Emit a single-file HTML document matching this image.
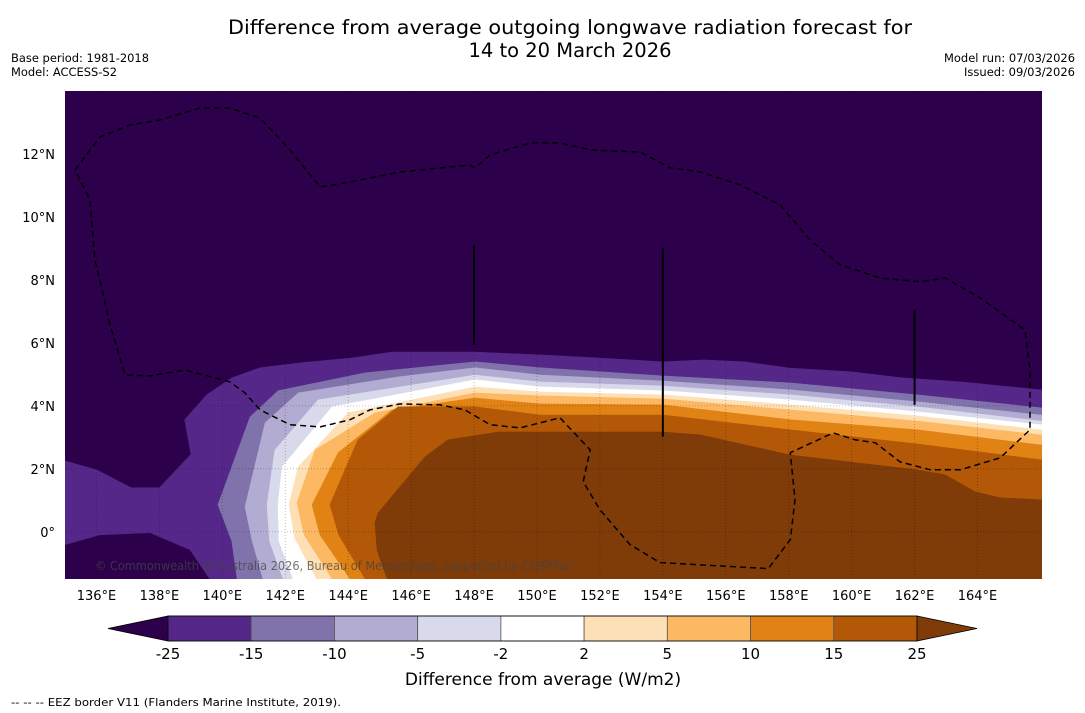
<!DOCTYPE html>
<html><head><meta charset="utf-8"><style>
html,body{margin:0;padding:0;background:#fff;}
svg{display:block;font-family:"DejaVu Sans","Liberation Sans",sans-serif;}
</style></head><body>
<svg id="chart" width="1085" height="713" viewBox="0 0 1085 713" xmlns="http://www.w3.org/2000/svg">
<text x="570" y="34" font-size="19.5" text-anchor="middle" textLength="684" lengthAdjust="spacingAndGlyphs">Difference from average outgoing longwave radiation forecast for</text>
<text x="570" y="57" font-size="19.5" text-anchor="middle">14 to 20 March 2026</text>
<text x="11" y="62" font-size="11.5" textLength="138" lengthAdjust="spacingAndGlyphs">Base period: 1981-2018</text>
<text x="11" y="76" font-size="11.5" textLength="106" lengthAdjust="spacingAndGlyphs">Model: ACCESS-S2</text>
<text x="1075" y="62" font-size="11.5" text-anchor="end" textLength="131" lengthAdjust="spacingAndGlyphs">Model run: 07/03/2026</text>
<text x="1075" y="76" font-size="11.5" text-anchor="end" textLength="111" lengthAdjust="spacingAndGlyphs">Issued: 09/03/2026</text>
<defs><clipPath id="pc"><rect x="65" y="91" width="977" height="488"/></clipPath></defs>
<g id="plot" clip-path="url(#pc)"></g>
<g id="axes"></g>
<g id="cbar"></g>
<text x="543" y="685" font-size="17" text-anchor="middle">Difference from average (W/m2)</text>
<text x="11" y="706" font-size="11" textLength="330" lengthAdjust="spacingAndGlyphs">--  --  -- EEZ border V11 (Flanders Marine Institute, 2019).</text>
</svg>
<script>
// ---- data ----
const lonTicks = [136,138,140,142,144,146,148,150,152,154,156,158,160,162,164];
const latTicks = [0,2,4,6,8,10,12];
const levelBounds = [-25,-15,-10,-5,-2,2,5,10,15,25];
const levelColors = ['#2d004b','#542788','#8073ac','#b2abd2','#d8daeb','#ffffff','#fee0b6','#fdb863','#e08214','#b35806','#7f3b08'];
// contour boundaries [lon,lat]; each region filled toward bottom-right
const c15 = [[139.6,-1.5],[138.97,-0.57],[137.7,-0.03],[136.1,-0.1],[135,-0.41],[135,2.25],[136,1.97],[137.1,1.4],[138.0,1.4],[139.0,2.46],[138.8,3.56],[139.5,4.35],[140.3,4.89],[141.2,5.21],[142.5,5.37],[144.1,5.52],[145.4,5.71],[148.0,5.71],[150.1,5.62],[152.0,5.52],[154.0,5.40],[155.3,5.46],[156.6,5.40],[158.05,5.2],[160.0,5.08],[161.6,4.89],[163.5,4.76],[166,4.51]];
const c10 = [[140.47,-1.5],[140.3,-0.3],[139.86,0.86],[140.88,3.65],[141.77,4.48],[144.54,5.05],[148.03,5.4],[150.1,5.21],[154.01,4.95],[158.05,4.73],[162.08,4.35],[166,3.94]];
const c5 = [[141.29,-1.5],[140.95,-0.3],[140.72,0.79],[141.36,3.46],[142.41,4.41],[145.58,4.92],[148.03,5.21],[150.1,4.98],[154.01,4.79],[158.05,4.51],[162.08,4.13],[166,3.71]];
const c2n = [[141.93,-1.5],[141.5,-0.3],[141.42,0.86],[141.67,2.6],[143.04,4.19],[148.03,4.98],[150.1,4.76],[154.01,4.63],[158.05,4.35],[162.08,3.97],[166,3.52]];
const c2p = [[142.25,-1.5],[141.8,-0.3],[141.77,0.86],[141.9,2.06],[143.49,3.97],[148.03,4.83],[150.1,4.6],[154.01,4.48],[158.05,4.19],[162.08,3.81],[166,3.4]];
const c5p = [[143.0,-1.5],[142.3,-0.2],[142.12,0.86],[142.41,2.06],[144.0,3.78],[148.03,4.6],[150.1,4.44],[154.01,4.35],[158.05,4.03],[162.08,3.68],[166,3.24]];
const c10p = [[143.49,-1.5],[142.6,-0.1],[142.37,0.92],[142.95,2.6],[144.85,3.78],[148.03,4.41],[150.1,4.32],[154.01,4.22],[158.05,3.87],[162.08,3.52],[166,3.08]];
const c15p = [[144.06,-1.5],[143.1,-0.1],[142.85,0.86],[143.68,2.51],[145.39,3.87],[148.03,4.25],[150.1,4.06],[154.01,4.03],[158.05,3.56],[162.08,3.24],[166,2.76]];
const c20p = [[144.54,-1.5],[143.7,-0.1],[143.42,0.86],[144.31,2.92],[145.58,3.97],[148.03,3.97],[150.1,3.71],[154.01,3.71],[158.05,3.24],[162.08,2.79],[166,2.29]];
const c25p = [[145.24,-1.5],[144.92,-0.6],[144.85,0.29],[144.95,0.6],[146.44,2.38],[147.17,2.92],[148.76,3.17],[150.89,3.17],[154.01,3.17],[155.18,3.08],[158.05,2.44],[162.08,1.97],[162.97,1.81],[163.93,1.27],[164.72,1.08],[166,1.02]];
const eez = [[135.32,11.49],[136.11,12.54],[137.07,12.92],[138.02,13.08],[139.29,13.46],[140.24,13.46],[141.2,13.14],[142.15,12.13],[143.11,10.95],[144.06,11.11],[145.65,11.43],[147.87,11.65],[148.03,11.56],[148.51,11.97],[149.78,12.35],[150.73,12.35],[151.69,12.13],[153.28,12.06],[154.23,11.56],[155.18,11.43],[156.46,11.02],[157.73,10.38],[158.68,9.27],[159.63,8.48],[160.91,8.06],[162.18,7.94],[162.97,8.06],[164.08,7.43],[165.51,6.41],[165.67,5.14],[165.67,3.24],[164.72,2.35],[163.45,1.97],[162.5,1.97],[161.54,2.22],[160.75,2.83],[160.11,2.92],[159.41,3.14],[158.05,2.51],[158.2,1.02],[158.05,-0.25],[157.35,-1.17],[153.91,-0.98],[152.96,-0.41],[152.0,0.70],[151.47,1.59],[151.69,2.6],[150.73,3.62],[149.46,3.3],[148.51,3.4],[147.71,3.87],[146.92,4.03],[145.65,4.06],[144.69,3.87],[144.06,3.56],[143.11,3.33],[142.15,3.4],[141.2,3.87],[140.72,4.41],[140.24,4.76],[138.81,5.14],[137.7,4.95],[136.91,4.98],[136.43,6.57],[136.11,8.0],[135.95,8.63],[135.79,10.54]];
const vLines = [[148,9.11,5.94],[154,9.02,3.02],[162,7.05,4.03]];

// ---- axes ----
const X0=65,X1=1042,Y0=91,Y1=579;
const lonMin=135,lonMax=166.05,latMin=-1.5,latMax=14;
const sx = lon => X0 + (lon-lonMin)/(lonMax-lonMin)*(X1-X0);
const sy = lat => Y1 - (lat-latMin)/(latMax-latMin)*(Y1-Y0);
const NS='http://www.w3.org/2000/svg';
function mk(tag, parent, attrs){const e=document.createElementNS(NS,tag);for(const k in attrs)e.setAttribute(k,attrs[k]);parent.appendChild(e);return e;}
const plot=document.getElementById('plot'), axes=document.getElementById('axes');

let bg=mk('rect',plot,{x:X0,y:Y0,width:X1-X0,height:Y1-Y0,fill:levelColors[0]});



const contours=[c15,c10,c5,c2n,c2p,c5p,c10p,c15p,c20p,c25p];
const cnames=['region-minus25-to-minus15','region-minus15-to-minus10','region-minus10-to-minus5','region-minus5-to-minus2','region-minus2-to-2','region-2-to-5','region-5-to-10','region-10-to-15','region-15-to-25','region-above-25'];
contours.forEach((c,i)=>{
  let d='M'+c.map(p=>sx(p[0]).toFixed(1)+','+sy(p[1]).toFixed(1)).join(' L');
  d+=' L'+(X1+5)+','+sy(c[c.length-1][1]).toFixed(1)+' L'+(X1+5)+','+(Y1+5)+' L'+sx(c[0][0]).toFixed(1)+','+(Y1+5)+' Z';
  const e=mk('path',plot,{d:d,fill:levelColors[i+1],stroke:levelColors[i+1],'stroke-width':0.5});
  
  
});

// gridlines
lonTicks.forEach(l=>{const e=mk('line',plot,{x1:sx(l),x2:sx(l),y1:Y0,y2:Y1,stroke:'#000','stroke-opacity':0.3,'stroke-width':0.8,'stroke-dasharray':'1,2'});
  
  });
latTicks.forEach(l=>{const e=mk('line',plot,{x1:X0,x2:X1,y1:sy(l),y2:sy(l),stroke:'#000','stroke-opacity':0.3,'stroke-width':0.8,'stroke-dasharray':'1,2'});
  
  });

// EEZ
let eezP=mk('path',plot,{d:'M'+eez.map(p=>sx(p[0]).toFixed(1)+','+sy(p[1]).toFixed(1)).join(' L')+' Z',fill:'none',stroke:'#000','stroke-width':1.5,'stroke-dasharray':'6,4'});


vLines.forEach(v=>{const e=mk('line',plot,{x1:sx(v[0]),x2:sx(v[0]),y1:sy(v[1]),y2:sy(v[2]),stroke:'#000','stroke-width':2});
  
  });

let cp=mk('text',plot,{x:95,y:570,'font-size':12,fill:'#444','fill-opacity':0.75,textLength:477,lengthAdjust:'spacingAndGlyphs'});
cp.textContent='© Commonwealth of Australia 2026, Bureau of Meteorology, supported by COSPPac';



lonTicks.forEach(l=>{const t=mk('text',axes,{x:sx(l),y:600,'font-size':13,'text-anchor':'middle'});t.textContent=l+'°E';
  
  });
latTicks.forEach(l=>{const t=mk('text',axes,{x:55,y:sy(l)+5,'font-size':13,'text-anchor':'end'});t.textContent=l===0?'0°':l+'°N';
  
  });

// colorbar
const cb=document.getElementById('cbar');
const CB0=168,CB1=917,CBy=616,CBh=25;
const segW=(CB1-CB0)/(levelBounds.length-1);
let lt=mk('polygon',cb,{points:`${CB0},${CBy} 108,${CBy+CBh/2} ${CB0},${CBy+CBh}`,fill:levelColors[0],stroke:'#000','stroke-width':0.8});


let rt=mk('polygon',cb,{points:`${CB1},${CBy} 977,${CBy+CBh/2} ${CB1},${CBy+CBh}`,fill:levelColors[10],stroke:'#000','stroke-width':0.8});


for(let i=0;i<levelBounds.length-1;i++){
  const r=mk('rect',cb,{x:CB0+i*segW,y:CBy,width:segW,height:CBh,fill:levelColors[i+1],stroke:'#555','stroke-width':0.8});
  
  
}
let ob=mk('rect',cb,{x:CB0,y:CBy,width:CB1-CB0,height:CBh,fill:'none',stroke:'#000','stroke-width':0.8});


levelBounds.forEach((b,i)=>{const t=mk('text',cb,{x:CB0+i*segW,y:659,'font-size':15,'text-anchor':'middle'});t.textContent=b;
  
  });
</script>
</body></html>
